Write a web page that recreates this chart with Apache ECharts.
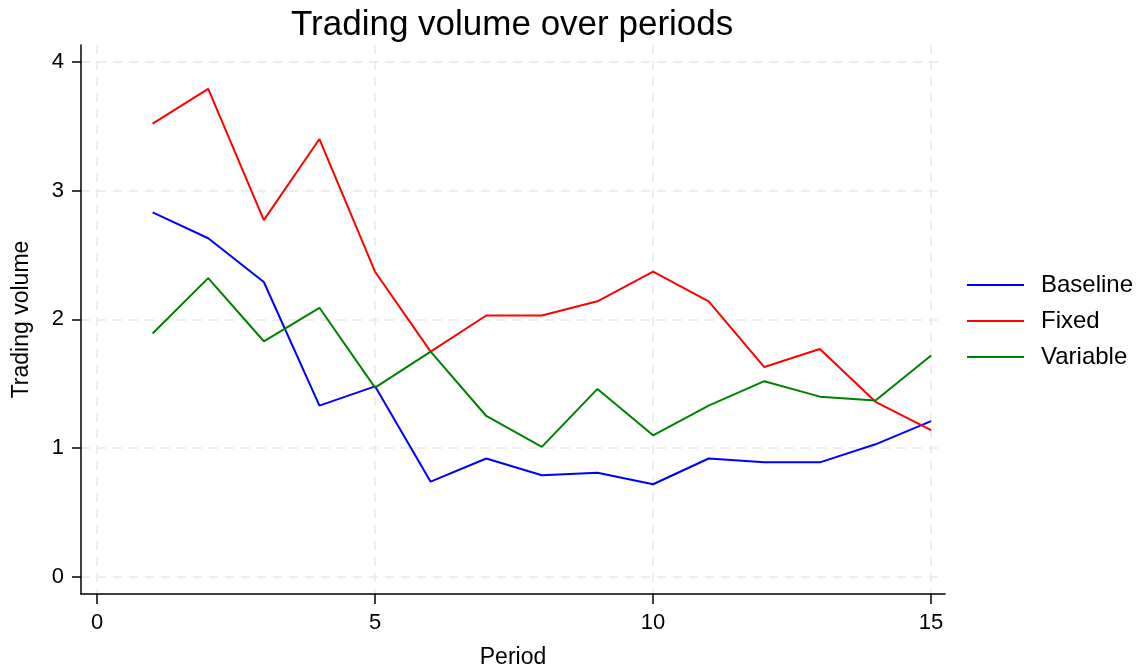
<!DOCTYPE html>
<html><head><meta charset="utf-8">
<script src="https://cdn.jsdelivr.net/npm/echarts@6/dist/echarts.min.js"></script>
<style>html,body{margin:0;padding:0;background:#fff}#c{width:1143px;height:671px}</style>
</head><body><div id="c"></div>
<script>
const periods = [1,2,3,4,5,6,7,8,9,10,11,12,13,14,15];
const baseline = [2.83,2.63,2.29,1.33,1.48,0.74,0.92,0.79,0.81,0.72,0.92,0.89,0.89,1.03,1.21];
const fixed    = [3.52,3.79,2.77,3.40,2.37,1.75,2.03,2.03,2.14,2.37,2.14,1.63,1.77,1.36,1.14];
const variable = [1.89,2.32,1.83,2.09,1.47,1.75,1.25,1.01,1.46,1.10,1.33,1.52,1.40,1.37,1.72];
const seriesNames = ['Baseline','Fixed','Variable'];
const xTicks = [0,5,10,15];
const yTicks = [0,1,2,3,4];
const colors = ['#0000ff','#ff0000','#008000'];
const FONT = '"Liberation Sans", Arial, sans-serif';

const chart = echarts.init(document.getElementById('c'), null, {renderer:'canvas'});
const toPts = arr => periods.map((p,i)=>[p, arr[i]]);
const gridSplit = {show:true, lineStyle:{color:'#e8e8e8', type:[9,7], width:1.5}};
chart.setOption({
  animation:false,
  backgroundColor:'#fff',
  title:{text:'Trading volume over periods', left:286, top:3,
    textStyle:{fontFamily:FONT, fontSize:35, fontWeight:'normal', color:'#000'}},
  legend:{orient:'vertical', left:962, top:268, icon:'rect', itemWidth:57, itemHeight:2,
    itemGap:12, data:seriesNames,
    textStyle:{fontFamily:FONT, fontSize:24, lineHeight:24, color:'#000', padding:[0,0,0,12]}},
  grid:{left:81, right:198, top:45, bottom:77, outerBoundsMode:'none', containLabel:false},
  xAxis:{type:'value', min:-0.288, max:15.25,
    axisLine:{show:true, onZero:false, lineStyle:{color:'#000', width:1.5}},
    axisTick:{show:true, length:10, customValues:xTicks, lineStyle:{color:'#000', width:1.5}},
    axisLabel:{customValues:xTicks, fontFamily:FONT, fontSize:22, color:'#000', margin:18},
    splitLine:gridSplit,
    name:'Period', nameLocation:'middle', nameGap:52,
    nameTextStyle:{fontFamily:FONT, fontSize:23, color:'#000'}},
  yAxis:{type:'value', min:-0.132, max:4.13,
    axisLine:{show:true, onZero:false, lineStyle:{color:'#000', width:1.5}},
    axisTick:{show:true, length:9, customValues:yTicks, lineStyle:{color:'#000', width:1.5}},
    axisLabel:{customValues:yTicks, fontFamily:FONT, fontSize:22, color:'#000', margin:17},
    splitLine:gridSplit,
    name:'Trading volume', nameLocation:'middle', nameGap:48, nameRotate:90,
    nameTextStyle:{fontFamily:FONT, fontSize:23, color:'#000'}},
  series:[baseline, fixed, variable].map((arr,i)=>({
    name:seriesNames[i], type:'line',
    data:toPts(arr), showSymbol:false, symbol:'none',
    lineStyle:{color:colors[i], width:2}, itemStyle:{color:colors[i]}
  }))
});
</script></body></html>
